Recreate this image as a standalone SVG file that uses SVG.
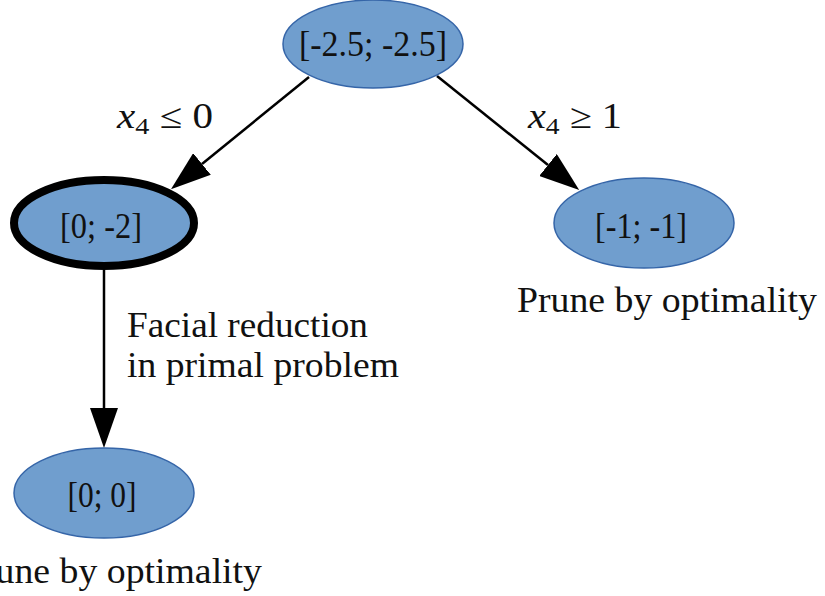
<svg xmlns="http://www.w3.org/2000/svg" width="825" height="596" viewBox="0 0 825 596">
<style>
.node ellipse{fill:#709ece;stroke:#3565a8;stroke-width:1.5}
.node.sel ellipse{stroke:#000;stroke-width:8}
text{font-family:"Liberation Serif","Times New Roman",serif;font-size:35px;fill:#111}
.c{text-anchor:middle}
.edge{stroke:#000;stroke-width:2.5;fill:none}
</style>
<defs>
<marker id="ah" markerUnits="userSpaceOnUse" viewBox="0 0 40 28" refX="0" refY="14" markerWidth="40" markerHeight="28" orient="auto">
<path d="M0,0 L40,14 L0,28 Z" fill="#000"/>
</marker>
</defs>
<rect width="825" height="596" fill="#fff"/>
<g id="connectors">
<line class="edge" x1="309" y1="77" x2="202" y2="164" marker-end="url(#ah)"/>
<line class="edge" x1="437" y1="76" x2="548" y2="165" marker-end="url(#ah)"/>
<line class="edge" x1="104" y1="270" x2="104" y2="408" marker-end="url(#ah)"/>
<text x="117" y="128" textLength="96" lengthAdjust="spacingAndGlyphs"><tspan font-style="italic">x</tspan><tspan font-size="24" dy="6">4</tspan><tspan dy="-6"> ≤ 0</tspan></text>
<text x="528" y="128" textLength="94" lengthAdjust="spacingAndGlyphs"><tspan font-style="italic">x</tspan><tspan font-size="24" dy="6">4</tspan><tspan dy="-6"> ≥ 1</tspan></text>
<text x="127" y="337" textLength="241" lengthAdjust="spacingAndGlyphs">Facial reduction</text>
<text x="127" y="377" textLength="272" lengthAdjust="spacingAndGlyphs">in primal problem</text>
</g>
<g id="n_root" class="node">
<ellipse cx="373" cy="44" rx="90" ry="44"/>
<text class="c" x="373" y="56" textLength="148" lengthAdjust="spacingAndGlyphs">[-2.5; -2.5]</text>
</g>
<g id="n_left" class="node sel">
<ellipse cx="104" cy="223" rx="90" ry="43"/>
<text class="c" x="101" y="238" textLength="82" lengthAdjust="spacingAndGlyphs">[0; -2]</text>
</g>
<g id="n_right" class="node">
<ellipse cx="644" cy="223" rx="90" ry="45"/>
<text class="c" x="641" y="238" textLength="92" lengthAdjust="spacingAndGlyphs">[-1; -1]</text>
<text x="517" y="312" textLength="300" lengthAdjust="spacingAndGlyphs">Prune by optimality</text>
</g>
<g id="n_bottom" class="node">
<ellipse cx="104" cy="493" rx="90" ry="45"/>
<text class="c" x="102" y="507" textLength="69" lengthAdjust="spacingAndGlyphs">[0; 0]</text>
<text x="-38" y="583" textLength="300" lengthAdjust="spacingAndGlyphs">Prune by optimality</text>
</g>
</svg>
